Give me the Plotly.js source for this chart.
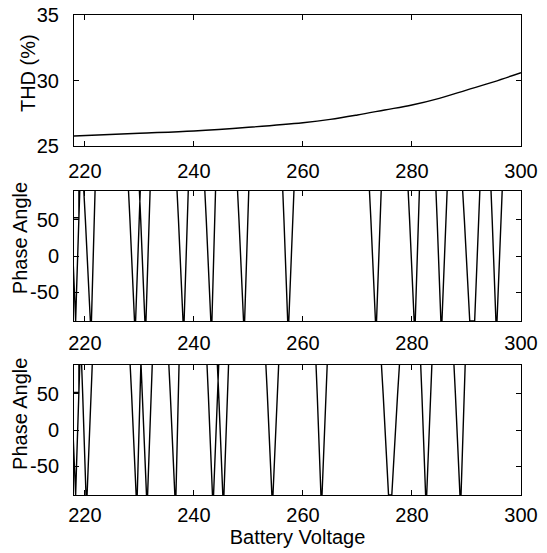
<!DOCTYPE html>
<html>
<head>
<meta charset="utf-8">
<script src="https://cdn.plot.ly/plotly-3.0.1.min.js"></script>
<style>html,body{margin:0;padding:0;background:#fff}#chart{width:547px;height:553px}</style>
</head>
<body>
<div id="chart"></div>
<script>
// THD curve
const thdVoltage = [218,230,240,250,260,265,270,275,280,285,290,295,300];
const thdValues  = [25.76,25.97,26.15,26.43,26.78,27.03,27.37,27.75,28.13,28.64,29.27,29.9,30.6];

// Phase angle (panel 2): each spike = top-left, bottom-left, bottom-right, top-right voltages
const p1LeadX = [218.0, 218.9, 218.9];
const p1LeadY = [53, 53, 100];
const p1TopL = [217.3, 219.8, 228.0, 230.0, 236.9, 242.0, 248.0, 256.3, 272.2, 279.3, 284.4, 289.3, 294.5];
const p1BotL = [218.2, 221.0, 229.1, 231.0, 238.0, 243.1, 249.1, 257.2, 273.3, 280.4, 285.3, 290.6, 295.4];
const p1BotR = [218.3, 221.2, 229.3, 231.2, 238.2, 243.3, 249.3, 257.4, 273.5, 280.6, 285.5, 291.5, 295.6];
const p1TopR = [219.1, 221.9, 230.2, 232.0, 239.0, 244.0, 250.1, 258.4, 274.4, 281.4, 286.5, 292.5, 296.6];

// Phase angle (panel 3)
const p2LeadX = [218.0, 218.9, 218.9];
const p2LeadY = [52, 52, 100];
const p2TopL = [217.3, 219.4, 228.3, 230.3, 235.4, 242.4, 244.3, 253.2, 262.4, 274.4, 281.6, 287.7];
const p2BotL = [218.2, 220.2, 229.4, 231.3, 236.5, 243.4, 245.3, 254.3, 263.3, 275.7, 282.5, 288.8];
const p2BotR = [218.3, 220.4, 229.6, 231.5, 236.7, 243.6, 245.5, 254.5, 263.5, 276.3, 282.7, 289.0];
const p2TopR = [219.1, 221.4, 230.2, 232.4, 237.3, 244.6, 246.4, 255.6, 264.5, 277.7, 283.7, 289.8];

// spike profile: angle level and share of the top half-width
const profileAngle = [90, 50, 0, -50, -90];
const profileWidth = [1, 0.76, 0.5, 0.2, 0];
const outsideAngle = 100;

const xTicks = [220, 240, 260, 280, 300];
const thdTicks = [25, 30, 35];
const phaseTicks = [-50, 0, 50];

function buildPath(leadX, leadY, tl, bl, br, tr) {
  const x = leadX.slice(), y = leadY.slice();
  for (let i = 0; i < tl.length; i++) {
    x.push(tl[i]); y.push(outsideAngle);
    for (let k = 0; k < profileAngle.length; k++) {
      x.push(bl[i] - (bl[i] - tl[i]) * profileWidth[k]); y.push(profileAngle[k]);
    }
    for (let k = profileAngle.length - 1; k >= 0; k--) {
      x.push(br[i] + (tr[i] - br[i]) * profileWidth[k]); y.push(profileAngle[k]);
    }
    x.push(tr[i]); y.push(outsideAngle);
  }
  return {x, y};
}
const path1 = buildPath(p1LeadX, p1LeadY, p1TopL, p1BotL, p1BotR, p1TopR);
const path2 = buildPath(p2LeadX, p2LeadY, p2TopL, p2BotL, p2BotR, p2TopR);

const lineStyle = {color: '#000', width: 1.4};
const data = [
  {x: thdVoltage, y: thdValues, mode: 'lines', line: {color: '#000', width: 1.4, shape: 'spline'}, xaxis: 'x', yaxis: 'y', hoverinfo: 'none'},
  {x: path1.x, y: path1.y, mode: 'lines', line: lineStyle, xaxis: 'x2', yaxis: 'y2', hoverinfo: 'none'},
  {x: path2.x, y: path2.y, mode: 'lines', line: lineStyle, xaxis: 'x3', yaxis: 'y3', hoverinfo: 'none'}
];

const font = {family: '"Liberation Sans", Arial, sans-serif', size: 20, color: '#000'};
function xax(anchor, standoff) {
  return {anchor: anchor, range: [218, 300], tickvals: xTicks, ticktext: xTicks.map(String),
    ticks: 'inside', ticklen: 5, tickcolor: '#000', mirror: 'ticks', showline: true, linecolor: '#000', linewidth: 1,
    showgrid: false, zeroline: false, tickfont: font, ticklabelstandoff: standoff};
}
function yax(domain, range, ticks) {
  return {domain: domain, range: range, tickvals: ticks, ticktext: ticks.map(String),
    ticks: 'inside', ticklen: 5, tickcolor: '#000', mirror: 'ticks', showline: true, linecolor: '#000', linewidth: 1,
    showgrid: false, zeroline: false, tickfont: font, ticklabelstandoff: 10};
}
const layout = {
  width: 547, height: 553, showlegend: false,
  margin: {l: 74, r: 26, t: 15, b: 58},
  paper_bgcolor: '#fff', plot_bgcolor: '#fff', font: font,
  xaxis: xax('y', 7), yaxis: yax([0.7271, 1], [25, 35], thdTicks),
  xaxis2: xax('y2', 4), yaxis2: yax([0.3625, 0.6333], [-90, 90], phaseTicks),
  xaxis3: Object.assign(xax('y3', 2), {title: {text: 'Battery Voltage', font: font, standoff: 2}}),
  yaxis3: yax([0, 0.2708], [-90, 90], phaseTicks),
  annotations: [
    {text: 'THD (%)', xref: 'paper', yref: 'paper', x: 0, y: 0.879, xanchor: 'center', yanchor: 'middle', xshift: -46, textangle: -90, showarrow: false, font: font},
    {text: 'Phase Angle', xref: 'paper', yref: 'paper', x: 0, y: 0.535, xanchor: 'center', yanchor: 'middle', xshift: -54, textangle: -90, showarrow: false, font: font},
    {text: 'Phase Angle', xref: 'paper', yref: 'paper', x: 0, y: 0.169, xanchor: 'center', yanchor: 'middle', xshift: -54, textangle: -90, showarrow: false, font: font}
  ]
};
Plotly.newPlot('chart', data, layout, {staticPlot: true, displayModeBar: false});
</script>
</body>
</html>
